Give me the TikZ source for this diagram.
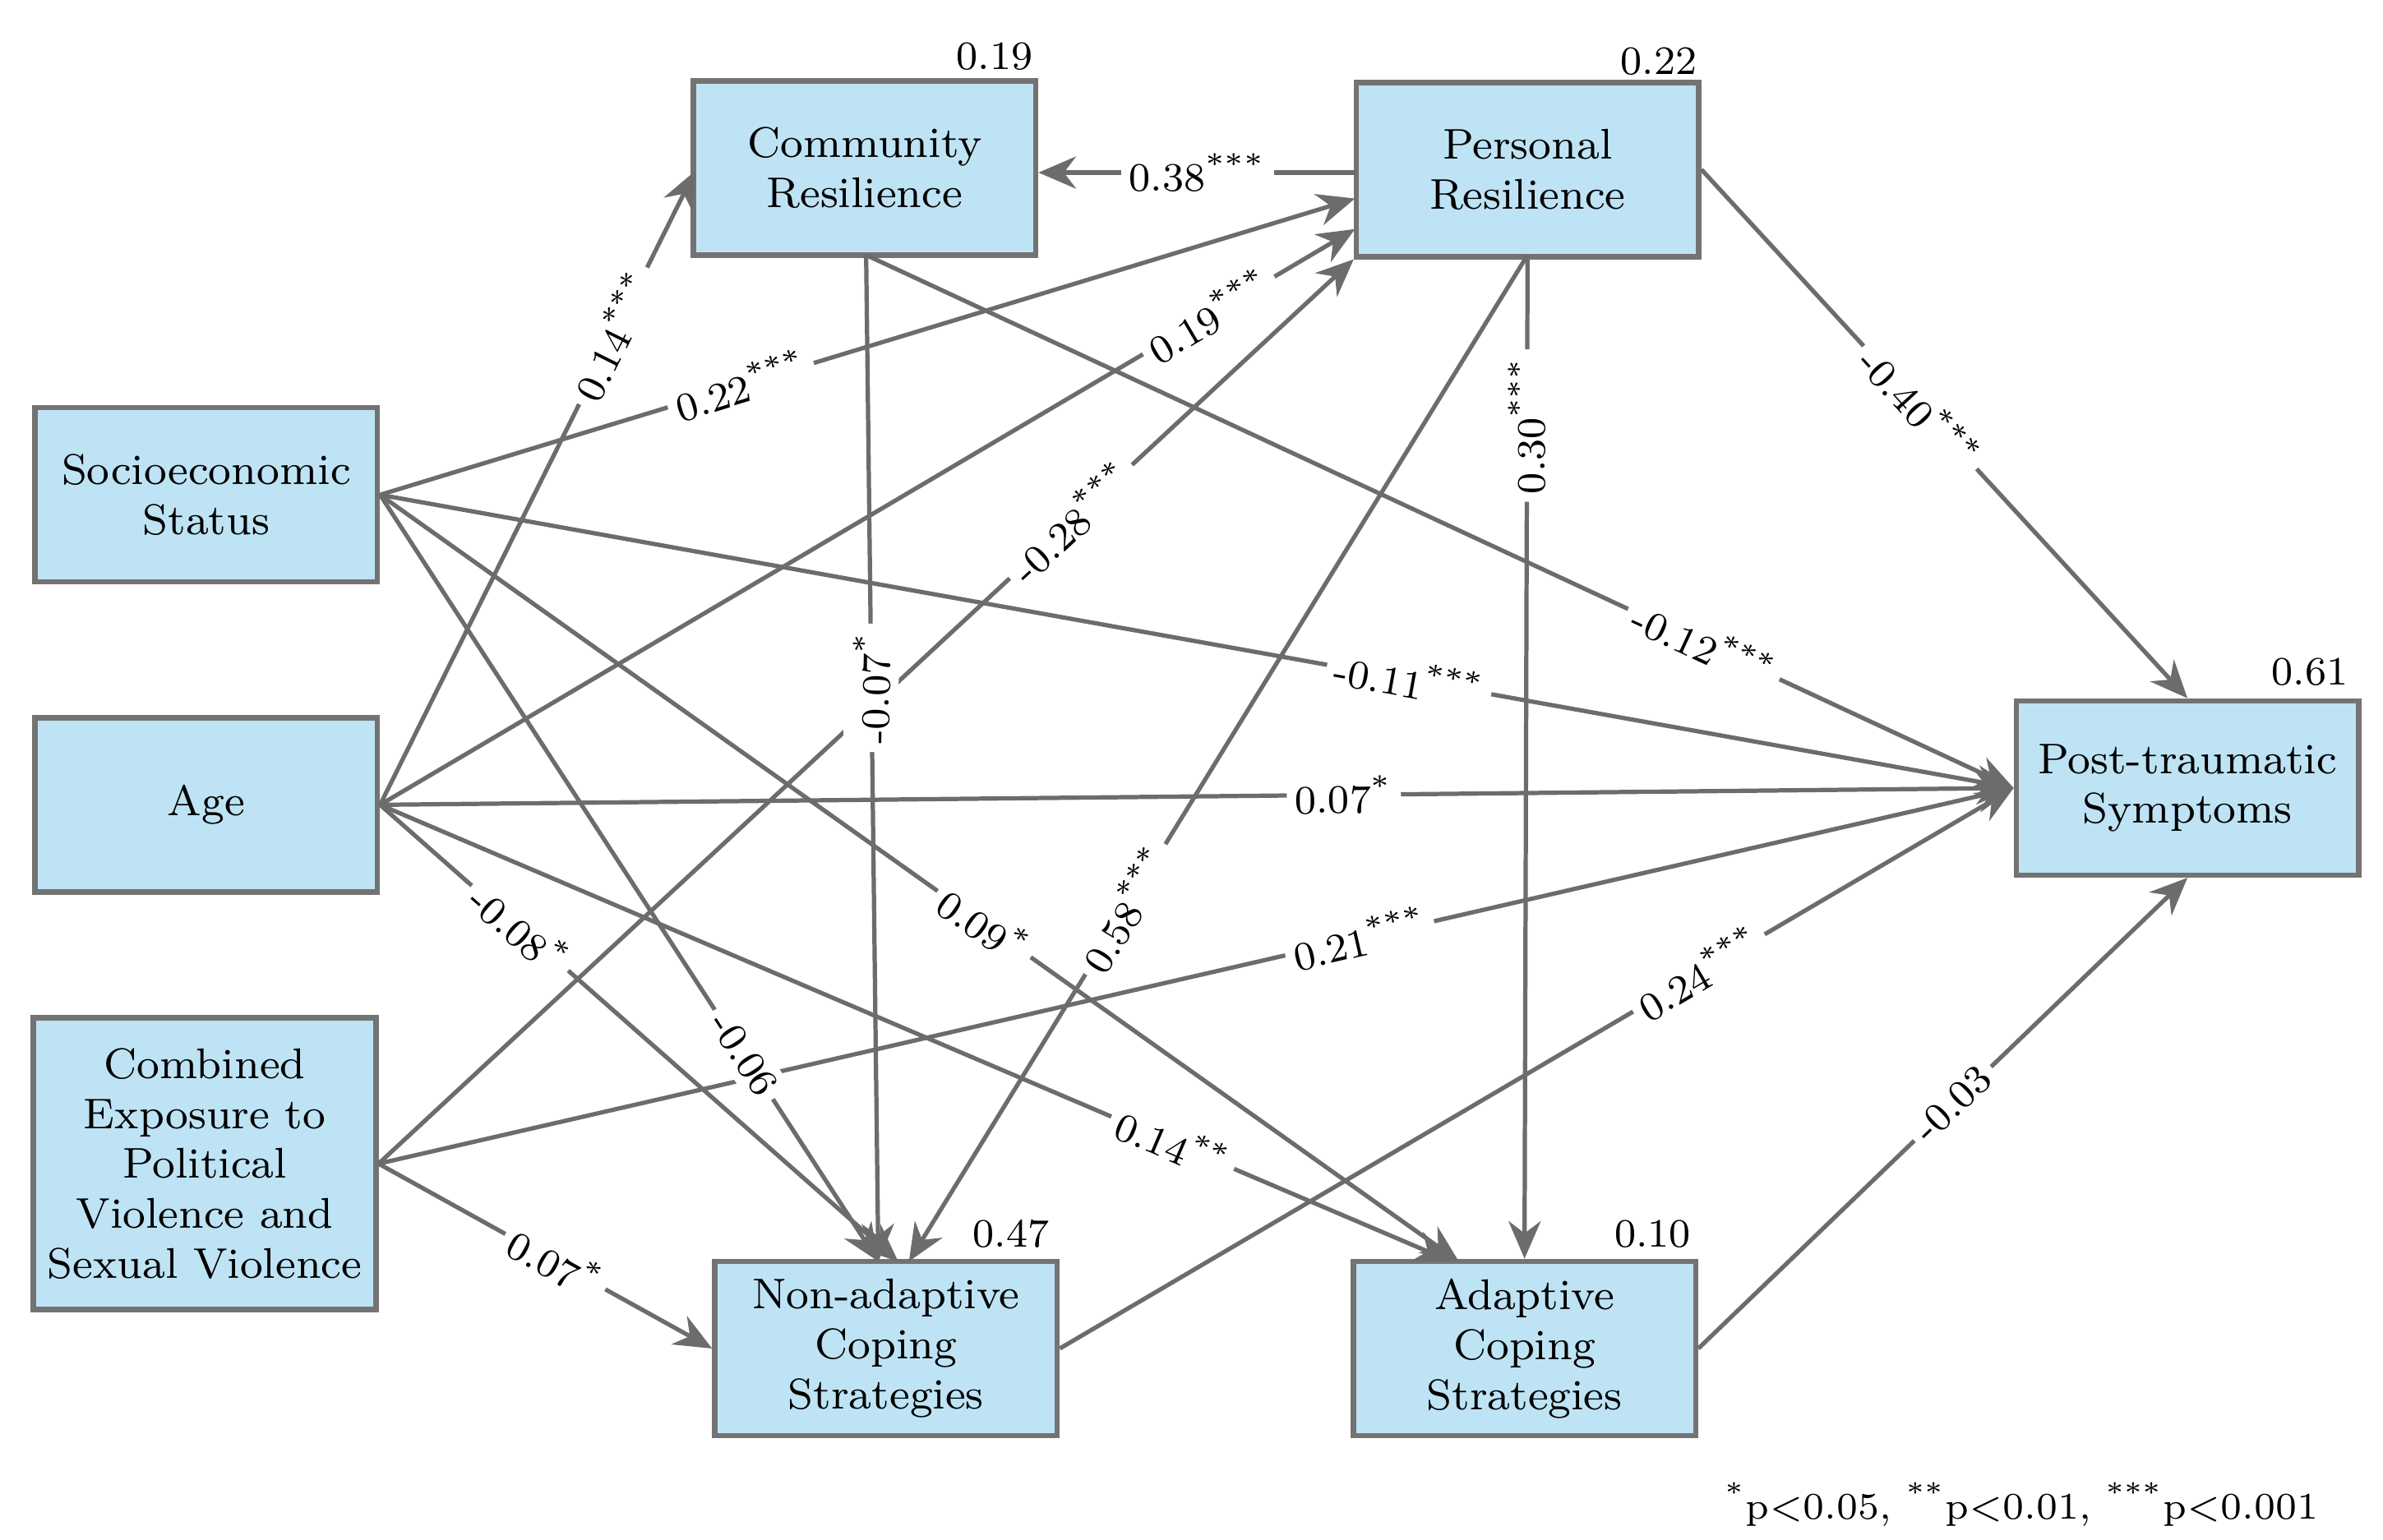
\documentclass[tikz,border=0pt]{standalone}
\usetikzlibrary{arrows.meta}
\newcommand{\stt}[1]{\textsuperscript{#1}}
\begin{document}
\begin{tikzpicture}[x=0.01cm,y=-0.01cm,
  box/.style={draw=gray!90!black,line width=1pt,fill=boxblue,minimum width=2.24cm,minimum height=1.14cm,align=center,font=\fontsize{8}{9.3}\selectfont,inner sep=1pt},
  ar/.style={draw=gray!85!black,line width=0.8pt,-{Stealth[length=7pt,width=6pt]}},
  lb/.style={fill=white,inner sep=1.5pt,font=\fontsize{7.5}{9}\selectfont,sloped},
  r2/.style={font=\fontsize{7.5}{9}\selectfont}]
\definecolor{boxblue}{HTML}{BEE3F4}
\useasboundingbox (0,0) rectangle (1560,1008);
\node[box] (cr) at (566,110) {Community\\Resilience};
\node[box] (pr) at (1000,111) {Personal\\Resilience};
\node[box] (ses) at (135,324) {Socioeconomic\\Status};
\node[box] (age) at (135,527) {Age};
\node[box,minimum height=1.91cm] (exp) at (134,762) {Combined\\Exposure to\\Political\\Violence and\\Sexual Violence};
\node[box] (na) at (580,883) {Non-adaptive\\Coping\\Strategies};
\node[box] (ad) at (998,883) {Adaptive\\Coping\\Strategies};
\node[box] (pts) at (1432,516) {Post-traumatic\\Symptoms};
\node[r2] (r1) at (651,37) {0.19};
\node[r2] (r2) at (1086,40) {0.22};
\node[r2] (r3) at (1512,440) {0.61};
\node[r2] (r4) at (662,808) {0.47};
\node[r2] (r5) at (1082,808) {0.10};
\node[font=\fontsize{7}{9}\selectfont,anchor=east] (fn) at (1530,985) {\stt{*}p$<$0.05, \stt{**}p$<$0.01, \stt{***}p$<$0.001};
\coordinate (crS) at (567,167);
\coordinate (prS) at (1000,167);
\draw[ar] (age.east) -- node[lb,pos=0.74]{0.14\stt{***}} (455,112);
\draw[ar] (ses.east) -- node[lb,pos=0.37]{0.22\stt{***}} (887,130);
\draw[ar] (age.east) -- node[lb,pos=0.85]{0.19\stt{***}} (887,150);
\draw[ar] (exp.east) -- node[lb,pos=0.71]{-0.28\stt{***}} (pr.south west);
\draw[ar] (888,113) -- node[lb,pos=0.5,sloped=false]{0.38\stt{***}} (cr.east|-0,113);
\draw[ar] (crS) -- node[lb,pos=0.43,sloped=false,rotate=89]{-0.07\stt{*}} (575,826);
\draw[ar] (crS) -- node[lb,pos=0.73]{-0.12\stt{***}} (pts.west);
\draw[ar] (prS) -- node[lb,pos=0.17]{0.30\stt{***}} (ad.north);
\draw[ar] (prS) -- node[lb,pos=0.65]{0.58\stt{***}} (595,826);
\draw[ar] (pr.east) -- node[lb,pos=0.45]{-0.40\stt{***}} (pts.north);
\draw[ar] (ses.east) -- node[lb,pos=0.63]{-0.11\stt{***}} (pts.west);
\draw[ar] (age.east) -- node[lb,pos=0.59]{0.07\stt{*}} (pts.west);
\draw[ar] (exp.east) -- node[lb,pos=0.6]{0.21\stt{***}} (pts.west);
\draw[ar] (na.east) -- node[lb,pos=0.67]{0.24\stt{***}} (pts.west);
\draw[ar] (ad.east) -- node[lb,pos=0.52]{-0.03} (pts.south);
\draw[ar] (ses.east) -- node[lb,pos=0.73]{-0.06} (575,826);
\draw[ar] (ses.east) -- node[lb,pos=0.56]{0.09\stt{*}} (955,826);
\draw[ar] (age.east) -- node[lb,pos=0.27]{-0.08\stt{*}} (588,826);
\draw[ar] (age.east) -- node[lb,pos=0.74]{0.14\stt{**}} (950,826);
\draw[ar] (exp.east) -- node[lb,pos=0.53]{0.07\stt{*}} (na.west);
\end{tikzpicture}
\end{document}
